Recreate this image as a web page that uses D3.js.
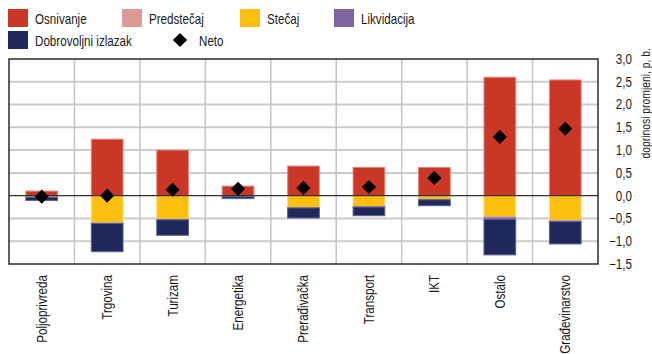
<!DOCTYPE html>
<html>
<head>
<meta charset="utf-8">
<script src="https://cdn.jsdelivr.net/npm/d3@7"></script>
<style>
  html, body { margin: 0; padding: 0; background: #fff; }
  svg { display: block; }
  text { font-family: "Liberation Sans", Arial, sans-serif; font-size: 14px; fill: #1a1a1a; }
</style>
</head>
<body>
<svg id="chart" width="652" height="354"></svg>
<script>
// Sector contributions to the change (percentage points)
const categories = ["Poljoprivreda", "Trgovina", "Turizam", "Energetika", "Prerađivačka", "Transport", "IKT", "Ostalo", "Građevinarstvo"];
const osnivanje   = [0.10, 1.24, 1.00, 0.21, 0.65, 0.62, 0.62, 2.60, 2.54];
const predstecaj  = [0.00, 0.00, 0.00, 0.00, 0.00, 0.00, 0.00, 0.00, 0.00];
const stecaj      = [-0.03, -0.60, -0.52, -0.02, -0.26, -0.24, -0.08, -0.47, -0.55];
const likvidacija = [-0.005, -0.01, -0.01, -0.005, -0.01, -0.01, -0.01, -0.05, -0.02];
const dobrovoljni = [-0.07, -0.62, -0.34, -0.04, -0.22, -0.19, -0.13, -0.78, -0.49];
const neto        = [-0.02, 0.00, 0.13, 0.15, 0.17, 0.19, 0.39, 1.29, 1.47];
const yTicks = [-1.5, -1.0, -0.5, 0.0, 0.5, 1.0, 1.5, 2.0, 2.5, 3.0];

const seriesNames = ["Osnivanje", "Predstečaj", "Stečaj", "Likvidacija", "Dobrovoljni izlazak"];
const seriesValues = [osnivanje, predstecaj, stecaj, likvidacija, dobrovoljni];
const colors = ["#cb3727", "#dd9898", "#fdc010", "#8064a2", "#1f2859"];
const strokes = ["#e4857a", "#ecc0c0", "#fed97a", "#a994c2", "#5a6290"];

const svg = d3.select("#chart");
const plotLeft = 9, plotRight = 598, plotTop = 59, plotBottom = 264;
const NARROW = 0.83; // condensed look for all labels

const x = d3.scaleBand().domain(categories).range([plotLeft, plotRight]).padding(0);
const y = d3.scaleLinear().domain([-1.5, 3.0]).range([plotBottom, plotTop]);
const bw = x.bandwidth();

const fmt = v => d3.format(".1f")(v).replace(".", ",").replace("-", "\u2212");

// grid
const grid = svg.append("g");
grid.selectAll("line.h").data(yTicks.filter(t => t !== 0 && t !== -1.5 && t !== 3.0)).join("line")
  .attr("x1", plotLeft).attr("x2", plotRight)
  .attr("y1", d => y(d)).attr("y2", d => y(d))
  .attr("stroke", "#cbcbcb").attr("stroke-width", 2);
grid.selectAll("line.v").data(categories.slice(1)).join("line")
  .attr("x1", d => x(d)).attr("x2", d => x(d))
  .attr("y1", plotTop).attr("y2", plotBottom)
  .attr("stroke", "#c4c4c4").attr("stroke-width", 1.5);

// stacked bars: positives stack up from zero, negatives stack down
const stacks = categories.map((c, i) => {
  let pos = 0, neg = 0;
  return seriesValues.map((vals, s) => {
    const v = vals[i];
    let y0, y1;
    if (v >= 0) { y0 = pos; y1 = pos + v; pos = y1; }
    else { y0 = neg; y1 = neg + v; neg = y1; }
    return { c, s, y0, y1, v };
  });
}).flat().filter(d => d.v !== 0);

svg.append("g").selectAll("rect").data(stacks).join("rect")
  .attr("x", d => x(d.c) + bw * 0.25 + 0.5)
  .attr("width", bw * 0.5 - 1)
  .attr("y", d => Math.min(y(d.y0), y(d.y1)))
  .attr("height", d => Math.abs(y(d.y0) - y(d.y1)))
  .attr("fill", d => colors[d.s])
  .attr("stroke", d => strokes[d.s])
  .attr("stroke-width", 1);

// zero line
svg.append("line")
  .attr("x1", plotLeft).attr("x2", plotRight)
  .attr("y1", y(0)).attr("y2", y(0))
  .attr("stroke", "#333").attr("stroke-width", 1.2);

// net markers
svg.append("g").selectAll("rect").data(neto).join("rect")
  .attr("x", -5).attr("y", -5).attr("width", 10).attr("height", 10)
  .attr("transform", (d, i) => `translate(${x(categories[i]) + bw / 2},${y(d)}) rotate(45)`)
  .attr("fill", "#000");

// frame
svg.append("rect")
  .attr("x", plotLeft).attr("y", plotTop).attr("width", plotRight - plotLeft).attr("height", plotBottom - plotTop)
  .attr("fill", "none").attr("stroke", "#2b2b2b").attr("stroke-width", 1.5);

// right axis labels
svg.append("g").selectAll("text").data(yTicks).join("text")
  .attr("transform", d => `translate(632,${y(d)}) scale(${NARROW},1)`)
  .attr("dy", "0.35em")
  .attr("text-anchor", "end")
  .text(fmt);

svg.append("text")
  .attr("transform", `translate(650,48) rotate(-90) scale(${NARROW},1)`)
  .attr("text-anchor", "end")
  .style("font-size", "12.5px")
  .text("doprinosi promjeni, p. b.");

// category labels
svg.append("g").selectAll("text").data(categories).join("text")
  .attr("transform", d => `translate(${x(d) + bw / 2},275) rotate(-90) scale(${NARROW},1)`)
  .attr("text-anchor", "end")
  .attr("dy", "0.35em")
  .text(d => d);

// legend
const legendItems = [
  { name: seriesNames[0], s: 0, x: 8, y: 9 },
  { name: seriesNames[1], s: 1, x: 122, y: 9 },
  { name: seriesNames[2], s: 2, x: 240, y: 9 },
  { name: seriesNames[3], s: 3, x: 334, y: 9 },
  { name: seriesNames[4], s: 4, x: 8, y: 31 }
];
const lg = svg.append("g");
legendItems.forEach(it => {
  lg.append("rect").attr("x", it.x).attr("y", it.y).attr("width", 20).attr("height", 18)
    .attr("fill", colors[it.s]);
  lg.append("text")
    .attr("transform", `translate(${it.x + 27},${it.y + 15}) scale(${NARROW},1)`)
    .text(it.name);
});
lg.append("rect").attr("x", -5).attr("y", -5).attr("width", 10).attr("height", 10)
  .attr("transform", "translate(180,40) rotate(45)").attr("fill", "#000");
lg.append("text")
  .attr("transform", `translate(199,46) scale(${NARROW},1)`)
  .text("Neto");
</script>
</body>
</html>
